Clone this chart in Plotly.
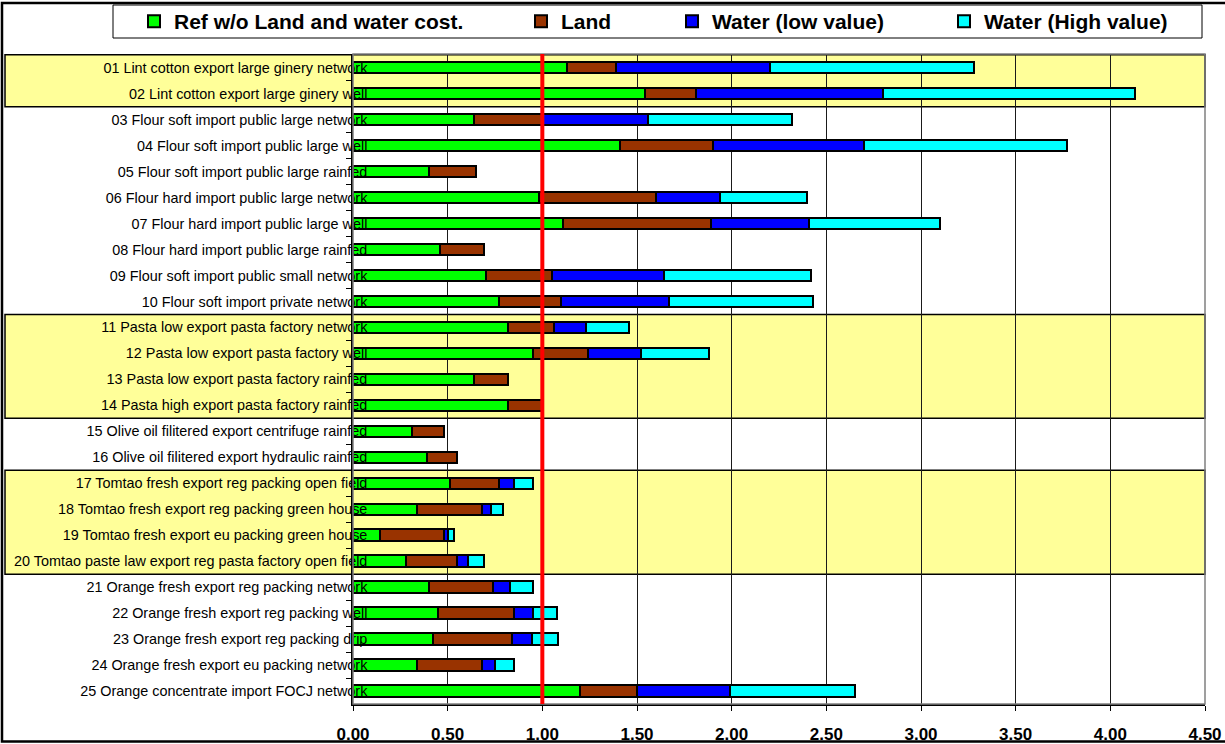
import plotly.graph_objects as go

categories = [
    "01 Lint cotton export large ginery network",
    "02 Lint cotton export large ginery well",
    "03 Flour soft import public large network",
    "04 Flour soft import public large well",
    "05 Flour soft import public large rainfed",
    "06 Flour hard import public large network",
    "07 Flour hard import public large well",
    "08 Flour hard import public large rainfed",
    "09 Flour soft import public small network",
    "10 Flour soft import private network",
    "11 Pasta low export pasta factory network",
    "12 Pasta low export pasta factory well",
    "13 Pasta low export pasta factory rainfed",
    "14 Pasta high export pasta factory rainfed",
    "15 Olive oil filitered export centrifuge rainfed",
    "16 Olive oil filitered export hydraulic rainfed",
    "17 Tomtao fresh export reg packing open field",
    "18 Tomtao fresh export reg packing green house",
    "19 Tomtao fresh export eu packing green house",
    "20 Tomtao paste law export reg pasta factory open field",
    "21 Orange fresh export reg packing network",
    "22 Orange fresh export reg packing well",
    "23 Orange fresh export reg packing drip",
    "24 Orange fresh export eu packing network",
    "25 Orange concentrate import FOCJ network",
]

ref_wo_land_water = [1.13, 1.54, 0.64, 1.41, 0.40, 0.98, 1.11, 0.46, 0.70, 0.77,
                     0.82, 0.95, 0.64, 0.82, 0.31, 0.39, 0.51, 0.34, 0.145, 0.28,
                     0.40, 0.45, 0.42, 0.34, 1.20]
land = [0.26, 0.27, 0.36, 0.49, 0.25, 0.62, 0.78, 0.23, 0.35, 0.33,
        0.24, 0.29, 0.18, 0.18, 0.17, 0.16, 0.26, 0.34, 0.335, 0.27,
        0.34, 0.40, 0.42, 0.34, 0.30]
water_low = [0.81, 0.99, 0.56, 0.80, 0.0, 0.34, 0.52, 0.0, 0.59, 0.57,
             0.17, 0.28, 0.0, 0.0, 0.0, 0.0, 0.08, 0.05, 0.02, 0.06,
             0.09, 0.10, 0.105, 0.07, 0.49]
water_high = [1.08, 1.33, 0.76, 1.07, 0.0, 0.46, 0.69, 0.0, 0.78, 0.76,
              0.23, 0.36, 0.0, 0.0, 0.0, 0.0, 0.10, 0.06, 0.035, 0.08,
              0.12, 0.13, 0.14, 0.10, 0.66]

series_names = ["Ref w/o Land and water cost.", "Land", "Water (low value)", "Water (High value)"]
series_colors = ["#00FF00", "#993300", "#0000FF", "#00FFFF"]
series_values = [ref_wo_land_water, land, water_low, water_high]

x_ticks = [0.0, 0.5, 1.0, 1.5, 2.0, 2.5, 3.0, 3.5, 4.0, 4.5]
reference_line = 1.0
highlight_groups = [(0, 1), (10, 13), (16, 19)]

W, H = 1225, 744
ML, MR, MT, MB = 353, 20, 54, 40
PW, PH = W - ML - MR, H - MT - MB


def px_x(p):
    return (p - ML) / PW


def px_y(p):
    return (H - MB - p) / PH


fig = go.Figure()
legend_ids = ["legend", "legend2", "legend3", "legend4"]
for name, color, vals, lid in zip(series_names, series_colors, series_values, legend_ids):
    fig.add_trace(go.Bar(
        y=categories, x=vals, name=name, orientation="h",
        marker=dict(color=color, line=dict(color="black", width=2)),
        legend=lid,
    ))

shapes = []
# highlighted yellow bands
for a, b in highlight_groups:
    shapes.append(dict(type="rect", xref="paper", yref="y",
                       x0=px_x(5), x1=1.0, y0=a - 0.5, y1=b + 0.5,
                       fillcolor="#FFFF99", line=dict(color="black", width=1.5),
                       layer="below"))
# plot area border (grey top/right)
shapes.append(dict(type="rect", xref="paper", yref="paper", x0=0, x1=1, y0=0, y1=1,
                   line=dict(color="#808080", width=1.5), layer="above"))
# red reference line
shapes.append(dict(type="line", xref="x", yref="paper", x0=reference_line, x1=reference_line,
                   y0=0, y1=1, line=dict(color="#FF0000", width=4), layer="above"))
# legend box
shapes.append(dict(type="rect", xref="paper", yref="paper",
                   x0=px_x(113), x1=px_x(1202), y0=px_y(38), y1=px_y(5),
                   line=dict(color="black", width=1), layer="above"))
# outer chart frame
shapes.append(dict(type="rect", xref="paper", yref="paper",
                   x0=px_x(2), x1=px_x(1228), y0=px_y(741.5), y1=px_y(3),
                   line=dict(color="black", width=2.5), layer="above"))

legend_text_x = [174, 561, 712, 984]
legend_cfg = {}
for lid, tx in zip(legend_ids, legend_text_x):
    legend_cfg[lid] = dict(
        xref="container", yref="container",
        x=(tx - 40) / W, y=1 - 21.5 / H, xanchor="left", yanchor="middle",
        orientation="h", bgcolor="rgba(0,0,0,0)", borderwidth=0,
        font=dict(family="Liberation Sans, Arial, sans-serif", size=21, color="black", weight="bold"),
    )

fig.update_layout(
    width=W, height=H,
    margin=dict(l=ML, r=MR, t=MT, b=MB, pad=0),
    barmode="stack", bargap=0.56,
    paper_bgcolor="white", plot_bgcolor="rgba(0,0,0,0)",
    font=dict(family="Liberation Sans, Arial, sans-serif", color="black"),
    showlegend=True,
    shapes=shapes,
    **legend_cfg,
)

fig.update_xaxes(
    range=[0, 4.5], tickvals=x_ticks, tickformat=".2f",
    showgrid=True, gridcolor="#1a1a1a", gridwidth=1,
    showline=True, linecolor="black", linewidth=1.5,
    ticks="outside", ticklen=5, tickcolor="black",
    tickfont=dict(size=17, weight="bold", color="black"),
    ticklabelstandoff=9, zeroline=False, automargin=False, fixedrange=True,
)
fig.update_yaxes(
    type="category", categoryorder="array", categoryarray=categories,
    autorange="reversed", tickson="boundaries",
    showgrid=False, showline=True, linecolor="black", linewidth=1.5,
    ticks="outside", ticklen=5, tickcolor="black",
    tickfont=dict(size=14.4, color="black"),
    ticklabelstandoff=-19, automargin=False, fixedrange=True,
)

fig.write_html("out.html")
